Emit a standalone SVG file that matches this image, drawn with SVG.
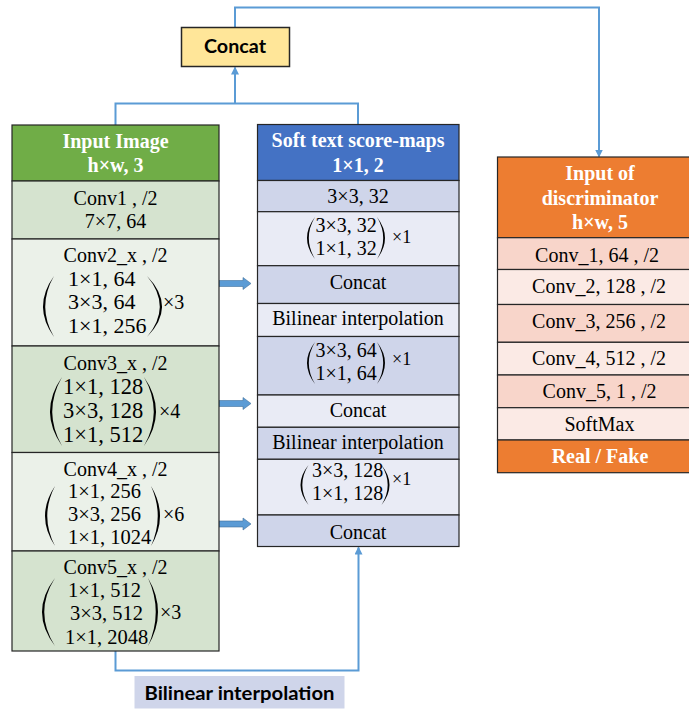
<svg xmlns="http://www.w3.org/2000/svg" width="689" height="711" viewBox="0 0 689 711">
<style>
.s{font-family:"Liberation Serif","Times New Roman",serif;font-size:20px;fill:#000;text-anchor:middle}
.h{font-family:"Liberation Serif","Times New Roman",serif;font-size:20px;font-weight:bold;fill:#fff;text-anchor:middle}
.m{font-family:"Liberation Serif","Times New Roman",serif;fill:#000}
.k{font-family:Lato,"Liberation Sans",sans-serif;font-size:18px;font-weight:bold;fill:#000;text-anchor:middle}
.b{stroke:#262626;stroke-width:1.2}
.p{fill:#000}
.c{fill:none;stroke:#5B9BD5;stroke-width:2}
.ba{fill:#5B9BD5;stroke:#41719C;stroke-width:0.6}
.g1{fill:#D5E3CF}.g2{fill:#EBF1E9}.u1{fill:#CFD5EA}.u2{fill:#E9EBF5}.o1{fill:#F8D5CA}.o2{fill:#FBEAE5}
</style>
<defs>
<marker id="ah" markerWidth="8" markerHeight="8" refX="7" refY="4" orient="auto" markerUnits="userSpaceOnUse">
<path d="M0,0 L8,4 L0,8 z" fill="#5B9BD5"/>
</marker>
</defs>

<g id="connectors">
<path class="c" d="M115.5,125 V103.5 H358 V124.5"/>
<path class="c" d="M235,103.5 V67.5" marker-end="url(#ah)"/>
<path class="c" d="M235,27 V7.5 H599 V156.5" marker-end="url(#ah)"/>
<path class="c" d="M115.5,651 V670.5 H358.5 V547.5" marker-end="url(#ah)"/>
<polygon class="ba" points="219,280.5 243,280.5 243,277.5 251,283.5 243,289.5 243,286.5 219,286.5"/>
<polygon class="ba" points="219,400.5 243,400.5 243,397.5 251,403.5 243,409.5 243,406.5 219,406.5"/>
<polygon class="ba" points="219,521 243,521 243,518 251,524 243,530 243,527 219,527"/>
</g>

<g id="concat-top">
<rect x="181.5" y="27.5" width="108" height="39" fill="#FFE699" stroke="#262626" stroke-width="1.5"/>
<text class="k" x="235" y="53" textLength="62" lengthAdjust="spacingAndGlyphs">Concat</text>
</g>

<g id="input-image">
<rect class="b" x="12" y="125" width="207" height="56" fill="#70AD47"/>
<text class="h" x="115.5" y="148">Input Image</text>
<text class="h" x="115.5" y="172">h×w, 3</text>
</g>
<g id="conv1">
<rect class="b g1" x="12" y="181" width="207" height="58"/>
<text class="s" x="115.5" y="205">Conv1 , /2</text>
<text class="s" x="115.5" y="228">7×7, 64</text>
</g>
<g id="conv2">
<rect class="b g2" x="12" y="239" width="207" height="107"/>
<text class="s" x="115.5" y="262">Conv2_x , /2</text>
<path class="p" d="M54,276 Q32,306.5 54,337 Q36.5,306.5 54,276 Z"/>
<path class="p" d="M147,276 Q177,306.5 147,337 Q172.5,306.5 147,276 Z"/>
<text class="m" font-size="22" x="68" y="285.5">1×1, 64</text>
<text class="m" font-size="22" x="68" y="309">3×3, 64</text>
<text class="m" font-size="22" x="68" y="333">1×1, 256</text>
<text class="m" font-size="20" x="163" y="309">×3</text>
</g>
<g id="conv3">
<rect class="b g1" x="12" y="346" width="207" height="106.5"/>
<text class="s" x="115.5" y="369.5">Conv3_x , /2</text>
<path class="p" d="M62,377 Q38,411.5 62,446 Q42.5,411.5 62,377 Z"/>
<path class="p" d="M144,377 Q168,411.5 144,446 Q163.5,411.5 144,377 Z"/>
<text class="m" font-size="22.5" x="63" y="393.5">1×1, 128</text>
<text class="m" font-size="22.5" x="63" y="418">3×3, 128</text>
<text class="m" font-size="22.5" x="63" y="442">1×1, 512</text>
<text class="m" font-size="20" x="159" y="418">×4</text>
</g>
<g id="conv4">
<rect class="b g2" x="12" y="452.5" width="207" height="98.5"/>
<text class="s" x="115.5" y="476">Conv4_x , /2</text>
<path class="p" d="M55,486 Q35,516 55,546 Q39.5,516 55,486 Z"/>
<path class="p" d="M151,486 Q169,516 151,546 Q164.5,516 151,486 Z"/>
<text class="m" font-size="20.5" x="68" y="497.5">1×1, 256</text>
<text class="m" font-size="20.5" x="68" y="521">3×3, 256</text>
<text class="m" font-size="20.5" x="68" y="544">1×1, 1024</text>
<text class="m" font-size="20" x="163" y="521">×6</text>
</g>
<g id="conv5">
<rect class="b g1" x="12" y="551" width="207" height="100"/>
<text class="s" x="115.5" y="574">Conv5_x , /2</text>
<path class="p" d="M55,578 Q29,612 55,646 Q33.5,612 55,578 Z"/>
<path class="p" d="M148,578 Q168,612 148,646 Q163.5,612 148,578 Z"/>
<text class="m" font-size="20.5" x="68" y="596.5">1×1, 512</text>
<text class="m" font-size="20.5" x="70" y="620">3×3, 512</text>
<text class="m" font-size="20.5" x="65" y="643.5">1×1, 2048</text>
<text class="m" font-size="20" x="160" y="619">×3</text>
</g>

<g id="score-maps">
<rect class="b" x="257.5" y="124.5" width="201.5" height="56" fill="#4472C4"/>
<text class="h" x="358" y="146.5">Soft text score-maps</text>
<text class="h" x="358" y="171.5">1×1, 2</text>
</g>
<g id="m-conv1">
<rect class="b u1" x="257.5" y="180.5" width="201.5" height="31.2"/>
<text class="s" x="358" y="202.5">3×3, 32</text>
</g>
<g id="m-block1">
<rect class="b u2" x="257.5" y="211.7" width="201.5" height="54"/>
<path class="p" d="M315,217 Q299,238 315,259 Q302.6,238 315,217 Z"/>
<path class="p" d="M377,217 Q393,238 377,259 Q389.4,238 377,217 Z"/>
<text class="m" font-size="20" x="315.5" y="231.5">3×3, 32</text>
<text class="m" font-size="20" x="315.5" y="255">1×1, 32</text>
<text class="m" font-size="18" x="392" y="243">×1</text>
</g>
<g id="m-concat1">
<rect class="b u1" x="257.5" y="265.7" width="201.5" height="37.8"/>
<text class="s" x="358" y="288.5">Concat</text>
</g>
<g id="m-bilinear1">
<rect class="b u2" x="257.5" y="303.5" width="201.5" height="33"/>
<text class="s" x="358" y="325">Bilinear interpolation</text>
</g>
<g id="m-block2">
<rect class="b u1" x="257.5" y="336.5" width="201.5" height="58.5"/>
<path class="p" d="M315,342 Q299,363 315,384 Q302.6,363 315,342 Z"/>
<path class="p" d="M377,342 Q393,363 377,384 Q389.4,363 377,342 Z"/>
<text class="m" font-size="20" x="315.5" y="357">3×3, 64</text>
<text class="m" font-size="20" x="315.5" y="380">1×1, 64</text>
<text class="m" font-size="18" x="392" y="365">×1</text>
</g>
<g id="m-concat2">
<rect class="b u2" x="257.5" y="395" width="201.5" height="32.3"/>
<text class="s" x="358" y="417">Concat</text>
</g>
<g id="m-bilinear2">
<rect class="b u1" x="257.5" y="427.3" width="201.5" height="32"/>
<text class="s" x="358" y="448.5">Bilinear interpolation</text>
</g>
<g id="m-block3">
<rect class="b u2" x="257.5" y="459.3" width="201.5" height="55.7"/>
<path class="p" d="M308.5,465 Q292.5,485 308.5,505 Q296.1,485 308.5,465 Z"/>
<path class="p" d="M381.5,465 Q397.5,485 381.5,505 Q393.9,485 381.5,465 Z"/>
<text class="m" font-size="20" x="312" y="477">3×3, 128</text>
<text class="m" font-size="20" x="312" y="500">1×1, 128</text>
<text class="m" font-size="18" x="392" y="485">×1</text>
</g>
<g id="m-concat3">
<rect class="b u1" x="257.5" y="515" width="201.5" height="31.5"/>
<text class="s" x="358" y="538.5">Concat</text>
</g>

<g id="bilinear-label">
<rect x="134.5" y="676" width="210" height="32.5" fill="#CFD5EA"/>
<text class="k" x="239.5" y="700" textLength="190" lengthAdjust="spacingAndGlyphs">Bilinear interpolation</text>
</g>

<g id="discriminator">
<rect class="b" x="497.5" y="157" width="205" height="80.7" fill="#ED7D31"/>
<text class="h" x="600" y="180">Input of</text>
<text class="h" x="600" y="205">discriminator</text>
<text class="h" x="600" y="228.5">h×w, 5</text>
</g>
<g id="d-conv1">
<rect class="b o1" x="497.5" y="237.7" width="205" height="31.8"/>
<text class="s" x="597" y="261.7">Conv_1, 64 , /2</text>
</g>
<g id="d-conv2">
<rect class="b o2" x="497.5" y="269.5" width="205" height="35"/>
<text class="s" x="599" y="293">Conv_2, 128 , /2</text>
</g>
<g id="d-conv3">
<rect class="b o1" x="497.5" y="304.5" width="205" height="37.8"/>
<text class="s" x="599" y="328">Conv_3, 256 , /2</text>
</g>
<g id="d-conv4">
<rect class="b o2" x="497.5" y="342.3" width="205" height="32.7"/>
<text class="s" x="599" y="365">Conv_4, 512 , /2</text>
</g>
<g id="d-conv5">
<rect class="b o1" x="497.5" y="375" width="205" height="32.7"/>
<text class="s" x="599.5" y="397.7">Conv_5, 1 , /2</text>
</g>
<g id="d-softmax">
<rect class="b o2" x="497.5" y="407.7" width="205" height="32.3"/>
<text class="s" x="599.5" y="431">SoftMax</text>
</g>
<g id="d-output">
<rect class="b" x="497.5" y="440" width="205" height="32.7" fill="#ED7D31"/>
<text class="h" x="600" y="463.3">Real / Fake</text>
</g>
</svg>
